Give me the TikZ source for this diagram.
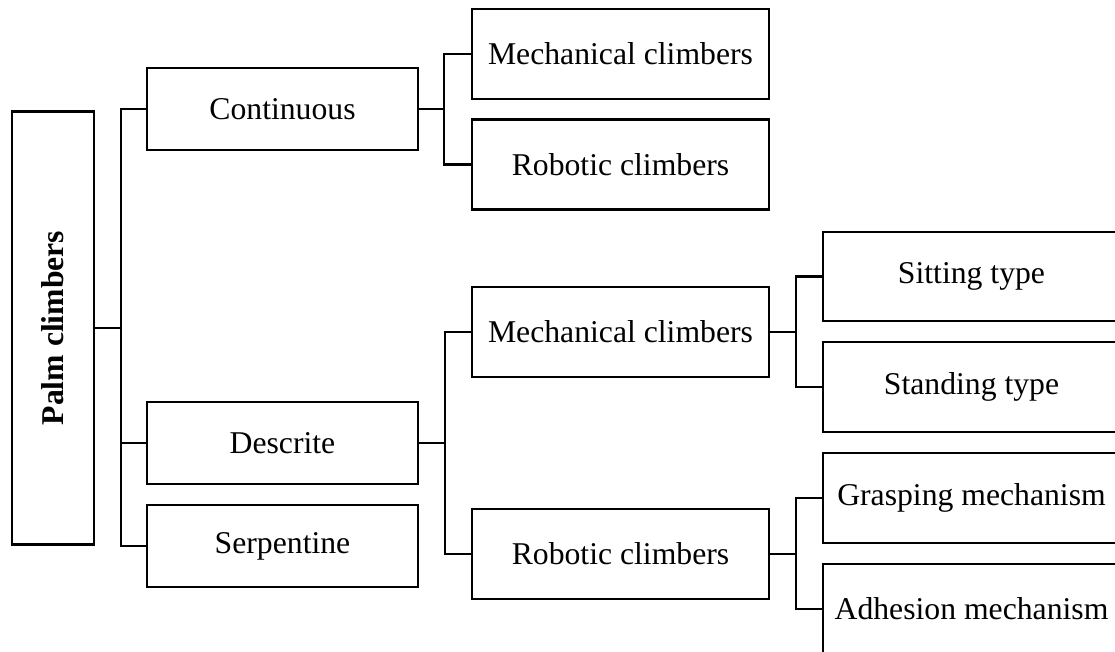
\documentclass[tikz,border=0pt]{standalone}
\usepackage{fontspec}
\setmainfont{Liberation Serif}
\begin{document}
\begin{tikzpicture}[x=1pt,y=-1pt,
  box/.style={draw,line width=2.7pt,rectangle,inner sep=0pt,anchor=center,
    font=\fontsize{31.7}{38}\selectfont},
  wire/.style={line width=2.7pt}]
\clip (0,0) rectangle (1115,651);
\fill[white] (0,0) rectangle (1115,651);
% level 0
\node[box,minimum width=82pt,minimum height=433pt] (palm) at (53,328)
  {\rotatebox{90}{\bfseries Palm climbers}};
% level 1
\node[box,minimum width=271pt,minimum height=82pt] (cont) at (282.5,109) {Continuous};
\node[box,minimum width=271pt,minimum height=82pt] (desc) at (282.5,443) {Descrite};
\node[box,minimum width=271pt,minimum height=82pt] (serp) at (282.5,546) {Serpentine};
% level 2
\node[box,minimum width=297pt,minimum height=90pt] (mecha) at (620.5,54) {Mechanical climbers};
\node[box,minimum width=297pt,minimum height=90pt] (roba) at (620.5,164.5) {Robotic climbers};
\node[box,minimum width=297pt,minimum height=90pt] (mechb) at (620.5,332) {Mechanical climbers};
\node[box,minimum width=297pt,minimum height=90pt] (robb) at (620.5,554) {Robotic climbers};
% level 3
\node[box,minimum width=297pt,minimum height=89pt] (sit) at (971.5,276.5) {Sitting type};
\node[box,minimum width=297pt,minimum height=90pt] (stand) at (971.5,387) {Standing type};
\node[box,minimum width=297pt,minimum height=90pt] (grasp) at (971.5,498) {Grasping mechanism};
\node[box,minimum width=297pt,minimum height=90pt] (adh) at (971.5,609) {Adhesion mechanism};
% junctions
\coordinate (j1) at (121,328);
\coordinate (j2) at (444,109);
\coordinate (j3) at (445,443);
\coordinate (j4) at (796,332);
\coordinate (j5) at (796,554);
% connectors
\draw[wire] (palm.east) -- (j1);
\draw[wire] (cont.west) -| (j1);
\draw[wire] (desc.west) -| (j1);
\draw[wire] (serp.west) -| (j1);
\draw[wire] (cont.east) -- (j2);
\draw[wire] (mecha.west) -| (j2);
\draw[wire] (roba.west) -| (j2);
\draw[wire] (desc.east) -- (j3);
\draw[wire] (mechb.west) -| (j3);
\draw[wire] (robb.west) -| (j3);
\draw[wire] (mechb.east) -- (j4);
\draw[wire] (sit.west) -| (j4);
\draw[wire] (stand.west) -| (j4);
\draw[wire] (robb.east) -- (j5);
\draw[wire] (grasp.west) -| (j5);
\draw[wire] (adh.west) -| (j5);
\end{tikzpicture}
\end{document}
